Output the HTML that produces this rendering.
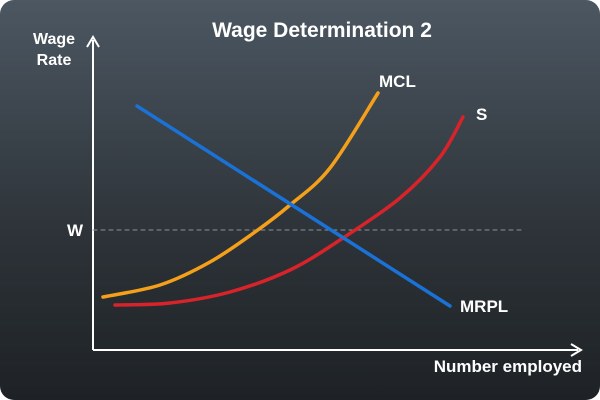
<!DOCTYPE html>
<html><head><meta charset="utf-8"><style>
html,body{margin:0;padding:0;background:#fff}
#c{width:600px;height:400px;border-radius:14px;overflow:hidden;background:linear-gradient(#4c5762,#2c3237 60%,#1e2226);position:relative}
text{font-family:"Liberation Sans",sans-serif;font-weight:bold;fill:#fff}
</style></head><body>
<div id="c">
<svg id="s" width="600" height="400">
<text x="322" y="37" font-size="21" text-anchor="middle">Wage Determination 2</text>
<text x="54" y="44" font-size="16" text-anchor="middle">Wage</text>
<text x="54" y="65" font-size="16" text-anchor="middle">Rate</text>
<text x="582" y="372" font-size="17" text-anchor="end">Number employed</text>
<g id="axes">
<line x1="93" y1="40" x2="93" y2="350" stroke="#fff" stroke-width="2"/>
<line x1="93" y1="350" x2="578" y2="350" stroke="#fff" stroke-width="2"/>
<path d="M87,47 L93,37 L99,47" fill="none" stroke="#fff" stroke-width="2"/>
<path d="M571,344 L581,350 L571,356" fill="none" stroke="#fff" stroke-width="2"/>
</g>
</svg></div>
<script>
const mclX=[10,67,117,162,197,237,285];
const mclY=[53,65,88,118,145,182,257];
const sX=[22,77,137,197,250,307,347,370];
const sY=[45,47,58,80,112,152,193,233];
const mrplX=[44,357];
const mrplY=[244,44];
const wageLevel=120;
const X=v=>93+v, Y=v=>350-v;
const svg=document.getElementById('s'),NS='http://www.w3.org/2000/svg';
function smooth(xs,ys){const p=xs.map((x,i)=>[X(x),Y(ys[i])]);let d='M'+p[0];for(let i=0;i<p.length-1;i++){const a=p[i-1]||p[i],b=p[i],c=p[i+1],e=p[i+2]||c;d+=` C${b[0]+(c[0]-a[0])/6},${b[1]+(c[1]-a[1])/6} ${c[0]-(e[0]-b[0])/6},${c[1]-(e[1]-b[1])/6} ${c[0]},${c[1]}`;}return d;}
function path(d,col,name,dash){const e=document.createElementNS(NS,'path');e.setAttribute('d',d);e.setAttribute('fill','none');e.setAttribute('stroke',col);e.setAttribute('stroke-width',dash?1:3.5);if(dash)e.setAttribute('stroke-dasharray','4,4');e.setAttribute('stroke-linecap','round');


svg.appendChild(e);}
function label(t,x,y,name,anchor){const e=document.createElementNS(NS,'text');e.textContent=t;e.setAttribute('x',x);e.setAttribute('y',y);e.setAttribute('font-size','17');if(anchor)e.setAttribute('text-anchor',anchor);


svg.appendChild(e);}
path(`M${X(0)},${Y(wageLevel)} L${X(432)},${Y(wageLevel)}`,'#8a9299','wage-dashed-line',true);
label('W',75,Y(wageLevel)+6,'wage-label','middle');
path(smooth(sX,sY),'#d8232a','s-curve');
path(smooth(mclX,mclY),'#f5a01a','mcl-curve');
path(`M${X(mrplX[0])},${Y(mrplY[0])} L${X(mrplX[1])},${Y(mrplY[1])}`,'#1a72d6','mrpl-line');
label('MCL',X(mclX[mclX.length-1])+1,Y(mclY[mclY.length-1])-6,'mcl-label');
label('S',X(sX[sX.length-1])+13,Y(sY[sY.length-1])+3,'s-label');
label('MRPL',X(mrplX[1])+10,Y(mrplY[1])+6,'mrpl-label');
</script>
</body></html>
